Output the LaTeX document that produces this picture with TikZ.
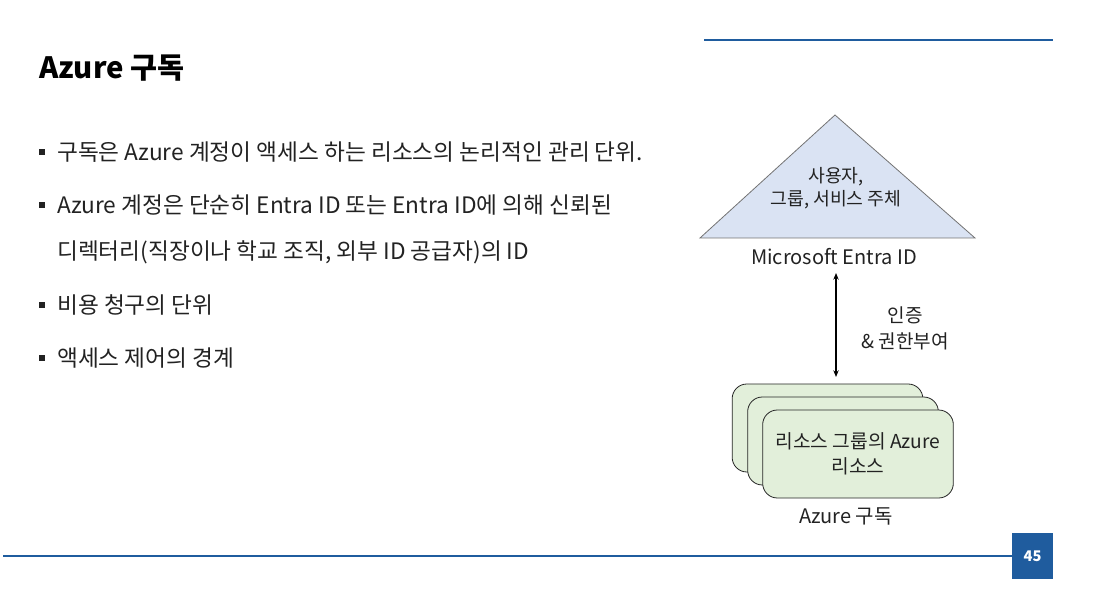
\documentclass[tikz,border=0pt]{standalone}
\usepackage{fontspec}
\setmainfont{Noto Sans CJK KR}
\usetikzlibrary{arrows.meta,positioning}
\definecolor{slideblue}{HTML}{1F5C9E}
\definecolor{idfill}{HTML}{DAE3F3}
\definecolor{rgfill}{HTML}{E2EFDA}
\definecolor{txt}{HTML}{222222}
\tikzset{
  bul/.style={anchor=west,inner sep=0pt,text=txt,font=\fontsize{17}{20}\selectfont},
  sq/.style={fill=txt,minimum size=4.5pt,inner sep=0pt},
  rgbox/.style={draw=black!85,fill=rgfill,rounded corners=11pt,minimum width=143pt,minimum height=66pt,line width=0.6pt},
  lbl/.style={text=txt,align=center,inner sep=0pt,font=\fontsize{14}{18.5}\selectfont}
}
\begin{document}
\begin{tikzpicture}[x=0.75pt,y=-0.75pt]
\useasboundingbox(0,0)rectangle(1114,598);
% header and footer
\node[anchor=west,inner sep=0pt,text=black,font=\bfseries\fontsize{22}{26}\selectfont](title)at(39,68){Azure 구독};
\draw[slideblue,line width=2.2pt](704,40)--(1053,40);
\draw[slideblue,line width=2.2pt](3,556)--(1012,556);
\node[fill=slideblue,minimum width=31pt,minimum height=34pt,inner sep=0pt,text=white,font=\bfseries\fontsize{11}{12}\selectfont](page)at(1032.5,556){45};
% bullets
\node[sq](b1)at(42,152){};\node[bul](t1)at(57,152){구독은 Azure 계정이 액세스 하는 리소스의 논리적인 관리 단위.};
\node[sq](b2)at(42,205){};\node[bul](t2)at(57,205){Azure 계정은 단순히 Entra ID 또는 Entra ID에 의해 신뢰된};
\node[bul](t2b)at(57,252){디렉터리(직장이나 학교 조직, 외부 ID 공급자)의 ID};
\node[sq](b3)at(42,305){};\node[bul](t3)at(57,305){비용 청구의 단위};
\node[sq](b4)at(42,358){};\node[bul](t4)at(57,358){액세스 제어의 경계};
% Entra ID
\filldraw[fill=idfill,draw=black!55,line width=0.6pt](700,238)--(835,115)--(975,238)--cycle;
\node[lbl,font=\fontsize{13.7}{17.3}\selectfont](users)at(836,188){사용자,\\그룹, 서비스 주체};
\node[lbl,font=\fontsize{15}{18}\selectfont](entra)at(834,257){Microsoft Entra ID};
% subscription
\node[rgbox](rg1)at(827.5,428){};
\node[rgbox](rg2)at(843,441){};
\node[rgbox,lbl,font=\fontsize{14.4}{18.75}\selectfont](rg3)at(858,454){리소스 그룹의 Azure\\리소스};
\node[lbl,font=\fontsize{15}{18}\selectfont](sub)at(846,516){Azure 구독};
\coordinate(up)at(836,273);\coordinate(down)at(836,377);
\draw[{Stealth[length=5pt,width=4pt]}-{Stealth[length=5pt,width=4pt]},line width=1.1pt](up)--(down);
\node[lbl,font=\fontsize{14.3}{19.5}\selectfont](auth)at(905,328){인증\\\& 권한부여};
\end{tikzpicture}
\end{document}
